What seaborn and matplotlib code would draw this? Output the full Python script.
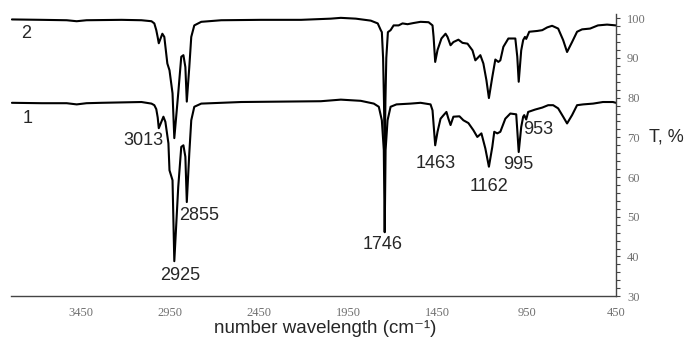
import numpy as np
import pandas as pd
import matplotlib
matplotlib.use("Agg")
import matplotlib.pyplot as plt
import seaborn as sns

# wavenumbers (cm-1) and transmittance (%)
wn_2 = [3835, 3668, 3528, 3472, 3417, 3221, 3109, 3053, 3037, 3026, 3018, 3012,
        2992, 2981, 2964, 2952, 2935, 2925, 2903, 2886, 2874, 2863, 2855, 2841,
        2830, 2813, 2774, 2662, 2439, 2215, 2048, 1992, 1908, 1824, 1785, 1768,
        1762, 1755, 1750, 1746, 1742, 1737, 1728, 1713, 1696, 1668, 1646, 1618,
        1584, 1545, 1500, 1478, 1472, 1463, 1450, 1428, 1405, 1394, 1377, 1361,
        1333, 1310, 1282, 1254, 1238, 1210, 1193, 1176, 1162, 1143, 1126, 1109,
        1098, 1081, 1053, 1025, 1014, 1003, 995, 981, 970, 960, 953, 936, 891,
        863, 835, 808, 774, 746, 724, 696, 668, 640, 595, 551, 500, 450]
t_2 = [99.7, 99.6, 99.5, 99.25, 99.5, 99.6, 99.5, 99.25, 98.7, 97.0, 95.2, 93.7,
       96.1, 95.3, 88.6, 86.9, 81.1, 69.8, 81.1, 90.3, 90.7, 87.7, 79.0, 87.7,
       95.3, 98.2, 99.1, 99.5, 99.6, 99.6, 99.9, 100.1, 99.9, 99.4, 98.7, 97.0,
       96.5, 90.0, 79.0, 65.0, 79.0, 90.0, 96.5, 97.0, 98.2, 98.2, 98.7, 98.5,
       98.8, 99.1, 99.0, 98.2, 95.3, 89.0, 92.0, 94.9, 96.1, 95.3, 93.2, 94.0,
       94.6, 93.8, 93.6, 91.9, 89.4, 90.7, 88.6, 84.4, 79.9, 85.2, 89.6, 89.0,
       89.4, 92.8, 94.9, 94.9, 94.9, 90.3, 84.0, 91.9, 94.5, 95.3, 94.8, 96.6, 96.8,
       97.0, 97.7, 98.1, 97.4, 94.5, 91.5, 94.0, 96.6, 97.2, 97.4, 98.2, 98.4, 98.2]

wn_1 = [3835, 3668, 3528, 3472, 3417, 3333, 3109, 3053, 3037, 3026, 3018, 3012,
        2986, 2975, 2958, 2952, 2935, 2925, 2903, 2886, 2874, 2863, 2855, 2841,
        2830, 2813, 2774, 2550, 2327, 2104, 1992, 1880, 1807, 1779, 1762, 1751,
        1746, 1741, 1730, 1713, 1680, 1601, 1545, 1489, 1478, 1463, 1450, 1433,
        1416, 1400, 1389, 1377, 1361, 1327, 1305, 1277, 1249, 1227, 1204, 1182,
        1162, 1143, 1132, 1115, 1098, 1070, 1042, 1009, 1003, 995, 981, 970, 964,
        953, 942, 903, 863, 830, 802, 774, 746, 724, 696, 668, 634, 578, 523,
        467, 450]
t_1 = [78.7, 78.6, 78.6, 78.3, 78.6, 78.7, 78.9, 78.5, 78.1, 77.1, 75.0, 72.3,
       75.2, 73.9, 68.5, 61.7, 59.2, 38.8, 57.5, 67.6, 68.0, 65.1, 53.7, 66.0,
       74.3, 77.7, 78.5, 78.9, 79.0, 79.1, 79.5, 79.2, 78.5, 77.7, 74.3, 66.8,
       46.1, 66.8, 74.3, 77.7, 78.3, 78.5, 78.7, 78.3, 76.8, 68.0, 71.4, 74.7,
       75.6, 76.4, 74.7, 73.1, 75.2, 75.3, 74.3, 73.6, 71.8, 70.1, 71.0, 67.2,
       62.6, 67.6, 71.4, 71.0, 71.4, 74.7, 76.0, 75.8, 71.8, 66.3, 72.6, 75.2, 75.6,
       74.5, 76.4, 77.0, 77.5, 78.1, 78.1, 77.3, 75.2, 73.5, 75.6, 78.1, 78.3, 78.5,
       78.9, 78.9, 78.7]

peak_labels = ["3013", "2925", "2855", "1746", "1463", "1162", "995", "953"]
label_wn = [3098, 2891, 2785, 1757, 1461, 1160, 998, 886]
label_t = [69.3, 35.3, 50.4, 43.1, 63.5, 57.7, 63.2, 71.9]

curve_names = ["2", "1"]
curve_name_wn = [3757, 3746]
curve_name_t = [96.2, 74.8]

x_major = [3450, 2950, 2450, 1950, 1450, 950, 450]

sns.set_style("white")
plt.rcParams["font.family"] = ["Liberation Sans", "DejaVu Sans"]

df = pd.concat([
    pd.DataFrame({"wn": wn_2, "T": t_2, "sample": "2"}),
    pd.DataFrame({"wn": wn_1, "T": t_1, "sample": "1"}),
])

fig = plt.figure(figsize=(6.89, 3.40), dpi=100)
ax = fig.add_axes([0.016, 0.129, 0.878, 0.829])

sns.lineplot(data=df, x="wn", y="T", units="sample", estimator=None,
             color="black", linewidth=1.5, sort=False, ax=ax, legend=False)

ax.set_xlim(3840, 450)
ax.set_ylim(30, 101)

for s in ["top", "left"]:
    ax.spines[s].set_visible(False)
for s in ["bottom", "right"]:
    ax.spines[s].set_color("#444444")
    ax.spines[s].set_linewidth(1.0)

ax.set_xticks(x_major)
ax.set_xticks(np.arange(450, 3840, 100), minor=True)
ax.set_yticks(np.arange(30, 101, 10))
ax.set_yticks(np.arange(30, 101, 2), minor=True)
ax.yaxis.tick_right()
ax.tick_params(which="both", color="#444444", width=0.8, direction="out")
ax.tick_params(axis="x", which="both", length=3.5, labelsize=9,
               labelcolor="#707070", labelfontfamily="Liberation Serif", pad=4)
ax.tick_params(axis="y", which="both", length=3, labelsize=9,
               labelcolor="#707070", labelfontfamily="Liberation Serif", pad=5)
ax.tick_params(left=False, which="both")

ax.set_xlabel("number wavelength (cm\u207b\u00b9)", fontsize=13.5, va="center")
ax.xaxis.set_label_coords(0.519, -0.115)
ax.yaxis.set_label_position("right")
ax.set_ylabel("T, %", fontsize=13, rotation=0, ha="left", va="center")
ax.yaxis.set_label_coords(1.0545, (70 - 30) / 71)

for txt, x, y in zip(peak_labels, label_wn, label_t):
    ax.text(x, y, txt, fontsize=13, ha="center", va="center")
for txt, x, y in zip(curve_names, curve_name_wn, curve_name_t):
    ax.text(x, y, txt, fontsize=13, ha="center", va="center")

ax.grid(False)
fig.savefig("out.png", dpi=100)
plt.close(fig)
